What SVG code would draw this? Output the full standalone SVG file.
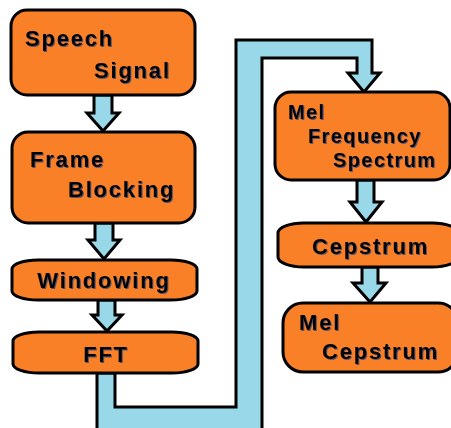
<svg xmlns="http://www.w3.org/2000/svg" width="451" height="428" viewBox="0 0 451 428">
<defs>
<filter id="sh" x="-5%" y="-20%" width="110%" height="140%">
<feDropShadow dx="1" dy="1" stdDeviation="0.3" flood-color="#1d3d7a" flood-opacity="0.7"/>
</filter>
</defs>
<style>
.box{fill:#F98026;stroke:#000;stroke-width:3}
.arr{fill:#99D8E9;stroke:#000;stroke-width:3;stroke-linejoin:miter}
.t{font-family:"Liberation Sans",Arial,sans-serif;font-weight:bold;font-size:22px;letter-spacing:1.8px;fill:#000;filter:url(#sh)}
.s{font-size:20px;letter-spacing:1.4px}
</style>
<rect width="451" height="428" fill="#fff"/>
<g id="connectors">
<polygon class="arr" points="94,95 112,95 112,113 119,113 103,131 87,113 94,113"/>
<polygon class="arr" points="95,223 113,223 113,240 120,240 104,259 88,240 95,240"/>
<polygon class="arr" points="98,300 115,300 115,315 122,315 107,331 92,315 98,315"/>
<polygon class="arr" points="97,373 97,432 262,432 262,58 357,58 357,73 348,73 364,92 380,73 372,73 372,40 236,40 236,407 115,407 115,373"/>
<polygon class="arr" points="357,180 374,180 374,202 382,202 366,222 350,202 357,202"/>
<polygon class="arr" points="362,267 378,267 378,283 386,283 370,302 353,283 362,283"/>
</g>
<g id="speech-signal">
<rect class="box" x="11" y="10" width="184" height="85" rx="16"/>
<text class="t" x="25" y="46">Speech</text>
<text class="t" x="94" y="78">Signal</text>
</g>
<g id="frame-blocking">
<rect class="box" x="12" y="132" width="183" height="91" rx="16"/>
<text class="t" x="30" y="167">Frame</text>
<text class="t" x="68" y="197">Blocking</text>
</g>
<g id="windowing">
<rect class="box" x="12" y="260" width="185" height="40" rx="26" ry="9"/>
<text class="t" x="104" y="288" text-anchor="middle">Windowing</text>
</g>
<g id="fft">
<rect class="box" x="13" y="332" width="185" height="41" rx="26" ry="9"/>
<text class="t" x="106" y="362" text-anchor="middle">FFT</text>
</g>
<g id="mel-frequency-spectrum">
<rect class="box" x="275" y="92" width="175" height="88" rx="16"/>
<text class="t s" x="288" y="119">Mel</text>
<text class="t s" x="308" y="143">Frequency</text>
<text class="t s" x="333" y="167">Spectrum</text>
</g>
<g id="cepstrum">
<rect class="box" x="278" y="223" width="180" height="44" rx="26" ry="10"/>
<text class="t" x="312" y="254">Cepstrum</text>
</g>
<g id="mel-cepstrum">
<rect class="box" x="283" y="303" width="175" height="69" rx="20"/>
<text class="t" x="299" y="330">Mel</text>
<text class="t" x="322" y="359">Cepstrum</text>
</g>
</svg>
